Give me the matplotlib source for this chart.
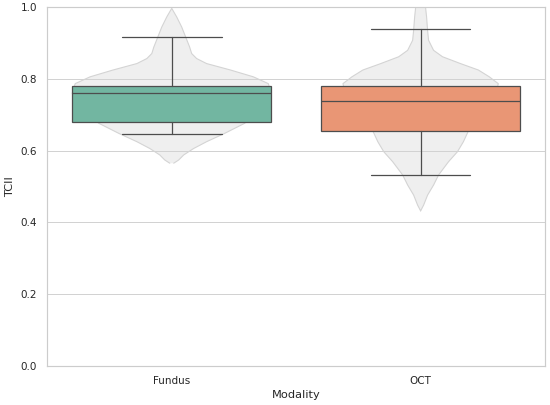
import numpy as np
import matplotlib
matplotlib.use("Agg")
import matplotlib.pyplot as plt
import seaborn as sns

modalities = ["Fundus", "OCT"]

# box summary
medians = [0.762, 0.738]
q1 = [0.679, 0.655]
q3 = [0.780, 0.780]
whisker_low = [0.646, 0.532]
whisker_high = [0.916, 0.940]

# violin outline: TCII value vs relative density (Fundus peak = 1)
fundus_tcii = [0.565, 0.574, 0.588, 0.606, 0.625, 0.648, 0.676, 0.700, 0.730,
               0.760, 0.787, 0.806, 0.825, 0.843, 0.857, 0.871, 0.889, 0.917,
               0.945, 0.973, 0.997]
fundus_density = [0.02, 0.07, 0.12, 0.22, 0.35, 0.53, 0.73, 0.85, 0.96,
                  1.00, 0.97, 0.82, 0.59, 0.35, 0.25, 0.20, 0.18, 0.14,
                  0.10, 0.05, 0.0]

oct_tcii = [0.432, 0.448, 0.476, 0.504, 0.532, 0.569, 0.597, 0.625, 0.655,
            0.690, 0.720, 0.750, 0.787, 0.806, 0.825, 0.843, 0.862, 0.880,
            0.908, 0.936, 0.973, 0.999, 1.030]
oct_density = [0.0, 0.03, 0.07, 0.13, 0.18, 0.28, 0.37, 0.43, 0.48,
               0.57, 0.67, 0.75, 0.78, 0.69, 0.58, 0.40, 0.22, 0.13,
               0.08, 0.07, 0.06, 0.05, 0.0]

sns.set_theme(style="whitegrid")
plt.rcParams["font.family"] = ["DejaVu Sans"]

fig = plt.figure(figsize=(5.5, 4.05), dpi=100)
ax = fig.add_axes([0.086, 0.097, 0.905, 0.885])

# violins in the background
half = 0.4
for pos, ys, dens in [(0, fundus_tcii, fundus_density), (1, oct_tcii, oct_density)]:
    ys = np.array(ys)
    d = np.array(dens) * half
    ax.fill_betweenx(ys, pos - d, pos + d, facecolor="lightgray", alpha=0.35,
                     edgecolor="none", zorder=2)
    ax.plot(np.r_[pos - d, (pos + d)[::-1]], np.r_[ys, ys[::-1]],
            color="#d4d4d4", lw=0.8, zorder=2)

# boxes on top
pal = sns.color_palette("Set2", 2)
stats = []
for i, name in enumerate(modalities):
    stats.append(dict(label=name, med=medians[i], q1=q1[i], q3=q3[i],
                      whislo=whisker_low[i], whishi=whisker_high[i], fliers=[]))

line_kw = dict(color="0.3", linewidth=0.9)
bp = ax.bxp(stats, positions=[0, 1], widths=0.8, patch_artist=True,
            showfliers=False,
            boxprops=dict(edgecolor="0.3", linewidth=0.9),
            medianprops=line_kw, whiskerprops=line_kw, capprops=line_kw,
            zorder=3)
for patch, c in zip(bp["boxes"], pal):
    patch.set_facecolor(sns.desaturate(c, 0.75))

ax.set_xlim(-0.5, 1.5)
ax.set_ylim(0, 1.0)
ax.set_yticks(np.arange(0, 1.01, 0.2))
ax.set_xticks([0, 1])
ax.set_xticklabels(modalities)
ax.xaxis.grid(False)
ax.yaxis.grid(True, color="0.82", linewidth=0.7)
ax.set_axisbelow(True)
for s in ax.spines.values():
    s.set_color("0.8")
    s.set_linewidth(0.85)
ax.tick_params(labelsize=7.5, colors="0.15", length=0, pad=7.5)
ax.set_xlabel("Modality", fontsize=8.2, color="0.15", labelpad=3)
ax.set_ylabel("TCII", fontsize=8.2, color="0.15", labelpad=4)

fig.savefig("out.png", dpi=100)
